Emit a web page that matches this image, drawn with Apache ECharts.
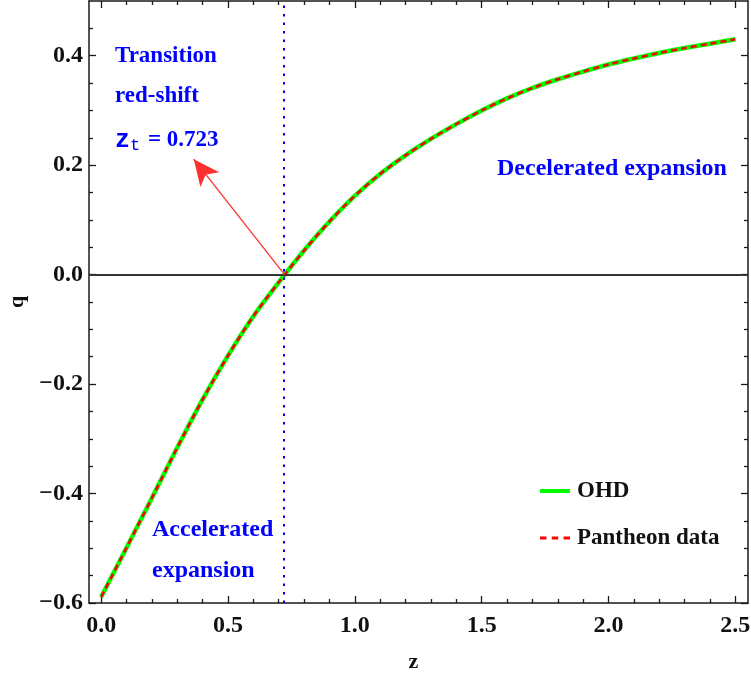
<!DOCTYPE html>
<html>
<head>
<meta charset="utf-8">
<title>Deceleration parameter q(z)</title>
<script src="https://cdn.jsdelivr.net/npm/echarts@6/dist/echarts.min.js"></script>
<style>
  html, body { margin: 0; padding: 0; background: #ffffff; }
  #chart { width: 751px; height: 679px; }
</style>
</head>
<body>
<div id="chart"></div>
<script>
// Redshift samples and the deceleration parameter reconstructed from each data set
const zValues = [0.0, 0.1, 0.2, 0.3, 0.4, 0.5, 0.6, 0.7, 0.8, 0.9, 1.0, 1.1, 1.2,
                 1.3, 1.4, 1.5, 1.6, 1.7, 1.8, 1.9, 2.0, 2.1, 2.2, 2.3, 2.4, 2.5];
const qOHD = [-0.589, -0.499, -0.408, -0.316, -0.228, -0.148, -0.076, -0.014, 0.044,
              0.097, 0.144, 0.184, 0.218, 0.248, 0.275, 0.300, 0.322, 0.341, 0.357,
              0.371, 0.384, 0.395, 0.405, 0.414, 0.422, 0.430];
const qPantheon = [-0.589, -0.499, -0.408, -0.316, -0.228, -0.148, -0.076, -0.014, 0.044,
                   0.097, 0.144, 0.184, 0.218, 0.248, 0.275, 0.300, 0.322, 0.341, 0.357,
                   0.371, 0.384, 0.395, 0.405, 0.414, 0.422, 0.430];

// Transition redshift where q changes sign
const zTransition = 0.723;
// Arrow from the crossing point towards the annotation
const arrowFrom = [0.723, 0.0];
const arrowTo = [0.365, 0.211];

// Tick positions
const xMajorTicks = [0, 0.5, 1.0, 1.5, 2.0, 2.5];
const xMinorTicks = [0.1, 0.2, 0.3, 0.4, 0.6, 0.7, 0.8, 0.9, 1.1, 1.2, 1.3, 1.4,
                     1.6, 1.7, 1.8, 1.9, 2.1, 2.2, 2.3, 2.4];
const yMajorTicks = [-0.6, -0.4, -0.2, 0.0, 0.2, 0.4];
const yMinorTicks = [-0.55, -0.5, -0.45, -0.35, -0.3, -0.25, -0.15, -0.1, -0.05,
                     0.05, 0.1, 0.15, 0.25, 0.3, 0.35, 0.45];

const serif = '"Liberation Serif", "Times New Roman", serif';
const mono = '"Liberation Mono", "DejaVu Sans Mono", monospace';
const frameColor = '#1a1a1a';
const blue = '#0000ff';

function fmt(v) {
  return v < 0 ? '\u2212' + (-v).toFixed(1) : v.toFixed(1);
}

const X_MIN = -0.048, X_MAX = 2.55, Y_MIN = -0.6, Y_MAX = 0.5;

function xAxisDef(position, major, withLabels, showLine) {
  return {
    type: 'value', position: position, min: X_MIN, max: X_MAX,
    name: withLabels ? 'z' : '', nameLocation: 'middle', nameGap: 48,
    nameTextStyle: { fontFamily: serif, fontWeight: 'bold', fontSize: 22, color: '#111',
                     padding: [0, 10, 0, 0] },
    axisLine: { show: showLine, onZero: false, lineStyle: { color: frameColor, width: 1.5 } },
    axisTick: { show: true, inside: true, length: major ? 7 : 4,
                customValues: major ? xMajorTicks : xMinorTicks,
                lineStyle: { color: frameColor, width: 1.3 } },
    axisLabel: { show: withLabels, customValues: xMajorTicks, formatter: fmt, margin: 11,
                 fontFamily: serif, fontWeight: 'bold', fontSize: 24, color: '#111' },
    splitLine: { show: false }
  };
}

function yAxisDef(position, major, withLabels, showLine) {
  return {
    type: 'value', position: position, min: Y_MIN, max: Y_MAX,
    name: withLabels ? 'q' : '', nameLocation: 'middle', nameGap: 61,
    nameTextStyle: { fontFamily: serif, fontWeight: 'bold', fontSize: 22, color: '#111' },
    axisLine: { show: showLine, onZero: false, lineStyle: { color: frameColor, width: 1.5 } },
    axisTick: { show: true, inside: true, length: major ? 7 : 4,
                customValues: major ? yMajorTicks : yMinorTicks,
                lineStyle: { color: frameColor, width: 1.3 } },
    axisLabel: { show: withLabels, customValues: yMajorTicks, formatter: fmt, margin: 6,
                 fontFamily: serif, fontWeight: 'bold', fontSize: 24, color: '#111' },
    splitLine: { show: false }
  };
}

const chart = echarts.init(document.getElementById('chart'), null, { renderer: 'canvas' });

const option = {
  backgroundColor: '#ffffff',
  animation: false,
  grid: { left: 89, right: 3, top: 1, bottom: 76, containLabel: false, outerBoundsMode: 'none' },
  xAxis: [
    xAxisDef('bottom', true, true, true),
    xAxisDef('top', true, false, true),
    xAxisDef('bottom', false, false, false),
    xAxisDef('top', false, false, false)
  ],
  yAxis: [
    yAxisDef('left', true, true, true),
    yAxisDef('right', true, false, true),
    yAxisDef('left', false, false, false),
    yAxisDef('right', false, false, false)
  ],
  legend: {
    orient: 'vertical', left: 535, top: 474,
    itemWidth: 30, itemHeight: 14, itemGap: 23,
    textStyle: { fontFamily: serif, fontWeight: 'bold', fontSize: 23, color: '#111',
                 lineHeight: 24, padding: [0, 0, 0, 2] },
    data: [
      { name: 'OHD', icon: 'path://M0,6 L30,6 L30,10 L0,10 Z', itemStyle: { color: '#00ff00' } },
      { name: 'Pantheon data', icon: 'path://M0,6.5 L6,6.5 L6,9.5 L0,9.5 Z M11,6.5 L17,6.5 L17,9.5 L11,9.5 Z M22,6.5 L28,6.5 L28,9.5 L22,9.5 Z', itemStyle: { color: '#ff0000' } }
    ]
  },
  series: [
    {
      name: 'guides', type: 'line', data: [], silent: true,
      markLine: {
        silent: true, symbol: ['none', 'none'], animation: false,
        label: { show: false },
        data: [
          { yAxis: 0, lineStyle: { color: '#333333', width: 2, type: 'solid' } },
          { xAxis: zTransition, lineStyle: { color: blue, width: 2, type: [2.5, 6] } }
        ]
      }
    },
    {
      name: 'arrow', type: 'line', data: [], silent: true,
      markLine: {
        silent: true, symbol: ['none', 'arrow'], symbolSize: 24, animation: false,
        label: { show: false },
        lineStyle: { color: '#ff3030', width: 1.3, type: 'solid' },
        data: [[
          { coord: arrowFrom, symbol: 'none' },
          { coord: arrowTo, symbol: 'arrow', symbolSize: [18, 26] }
        ]]
      }
    },
    {
      name: 'OHD', type: 'line', smooth: 0.3, symbol: 'none',
      lineStyle: { color: '#00ff00', width: 4.5 }, itemStyle: { color: '#00ff00' },
      data: zValues.map((z, i) => [z, qOHD[i]]), z: 3
    },
    {
      name: 'Pantheon data', type: 'line', smooth: 0.3, symbol: 'none',
      lineStyle: { color: '#ff0000', width: 2.6, type: [6, 4] }, itemStyle: { color: '#ff0000' },
      data: zValues.map((z, i) => [z, qPantheon[i]]), z: 4
    }
  ],
  graphic: [
    { type: 'text', left: 115, top: 45, style: { text: 'Transition', fill: blue,
      font: 'bold 23px ' + serif } },
    { type: 'text', left: 115, top: 85, style: { text: 'red-shift', fill: blue,
      font: 'bold 23px ' + serif } },
    { type: 'text', left: 115, top: 128, style: {
      text: '{zt|z}{sub|t}{n| = 0.723}',
      rich: {
        zt: { fontFamily: mono, fontSize: 25, fontWeight: 'bold', fill: blue, color: blue },
        sub: { fontFamily: mono, fontSize: 17, fill: blue, color: blue, padding: [10, 2, 0, 0] },
        n: { fontFamily: serif, fontSize: 23, fontWeight: 'bold', fill: blue, color: blue }
      } } },
    { type: 'text', left: 497, top: 157, style: { text: 'Decelerated expansion', fill: blue,
      font: 'bold 24px ' + serif } },
    { type: 'text', left: 152, top: 518, style: { text: 'Accelerated', fill: blue,
      font: 'bold 24px ' + serif } },
    { type: 'text', left: 152, top: 559, style: { text: 'expansion', fill: blue,
      font: 'bold 24px ' + serif } }
  ]
};

chart.setOption(option);
</script>
</body>
</html>
